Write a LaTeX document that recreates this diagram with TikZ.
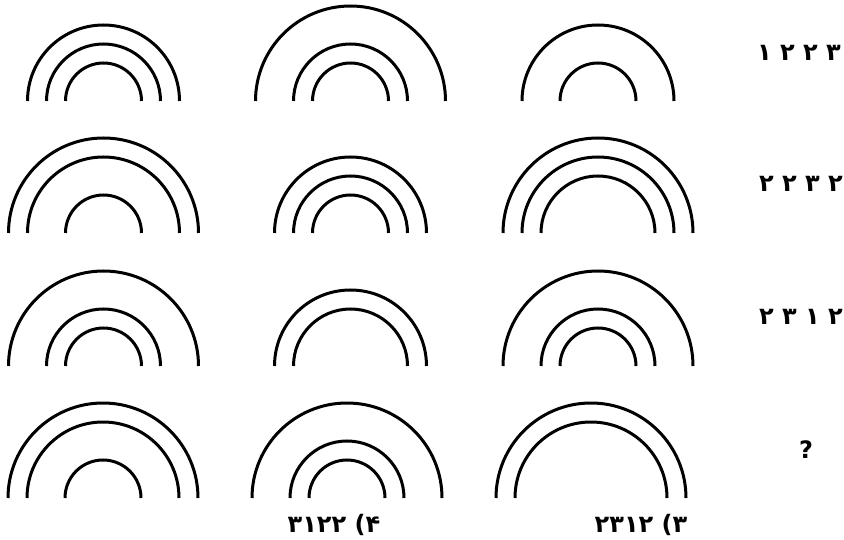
\documentclass[tikz,border=0pt]{standalone}
\usepackage{fontspec}
\TeXXeTstate=1
\newfontfamily\fafont[Script=Arabic]{DejaVu Sans}
\usetikzlibrary{calc}
\tikzset{
  ring/.style={line width=3pt, line cap=butt},
  lab/.style={font=\fafont\bfseries\fontsize{24}{28}\selectfont, inner sep=0pt},
  rowlab/.style={lab, anchor=east},
}
\newcommand{\rainbow}[3]{%
  \foreach \r in {#3} {\draw[ring] ($(#1,#2)+(-\r,0)$) arc[start angle=180,end angle=360,radius=\r];}%
}
\begin{document}
\begin{tikzpicture}[x=1pt,y=-1pt]
\useasboundingbox (0,0) rectangle (844,540);
% row 1
\rainbow{103.5}{101}{38,57,76}
\rainbow{350.5}{101}{38,57,95}
\rainbow{598}{101}{38,76}
% row 2
\rainbow{103.5}{233}{38,76,95}
\rainbow{350.5}{233}{38,57,76}
\rainbow{598}{233}{57,76,95}
% row 3
\rainbow{103.5}{366}{38,57,95}
\rainbow{350.5}{366}{57,76}
\rainbow{598}{366}{38,57,95}
% row 4
\rainbow{103}{498}{38,76,95}
\rainbow{347}{498}{38,57,95}
\rainbow{591}{498}{76,95}
% labels
\node[rowlab] (l1) at (841,53) {\beginR ۳ ۲ ۲ ۱\endR};
\node[rowlab] (l2) at (843,184) {\beginR ۲ ۳ ۲ ۲\endR};
\node[rowlab] (l3) at (843,317) {\beginR ۲ ۱ ۳ ۲\endR};
\node[lab] (q) at (806,450) {?};
\node[lab] (o4) at (334,525) {\beginR ۴) ۳۱۲۲\endR};
\node[lab] (o3) at (641,525) {\beginR ۳) ۲۳۱۲\endR};
\end{tikzpicture}
\end{document}
